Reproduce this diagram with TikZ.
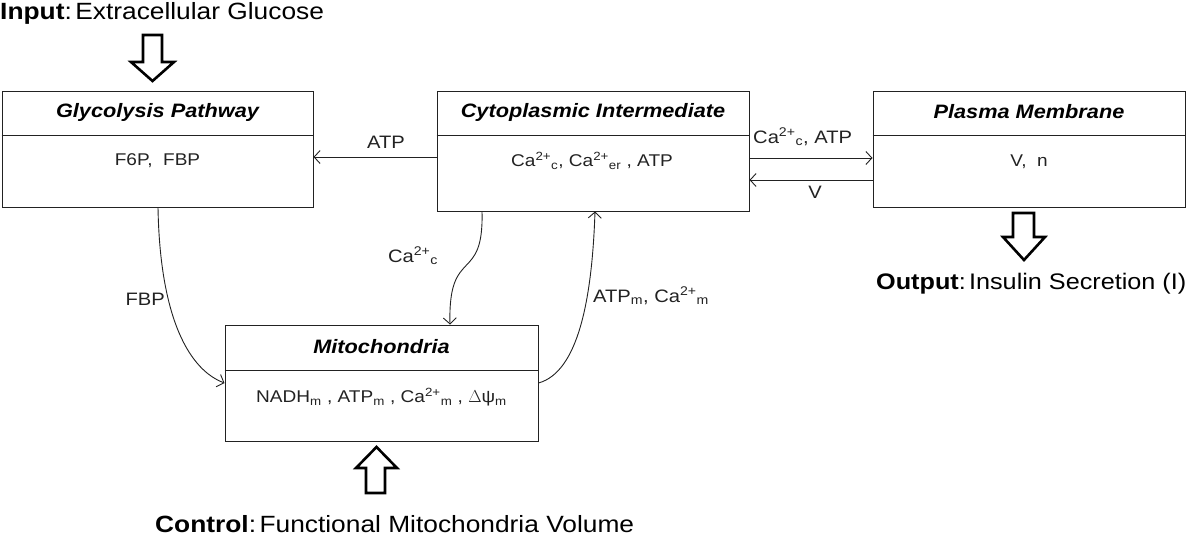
\documentclass[tikz,border=0pt]{standalone}
\usepackage{fontspec}
\setmainfont[FakeStretch=1.12]{Liberation Sans}
\usetikzlibrary{arrows.meta}
\definecolor{ink}{HTML}{222222}
\tikzset{
  blk/.style={draw=ink, line width=1pt, rectangle, inner sep=0pt},
  ttl/.style={font=\fontsize{19.4}{22}\selectfont\bfseries\itshape, inner sep=1pt},
  body/.style={font=\fontsize{17}{20}\selectfont, inner sep=1pt, text=ink},
  lbl/.style={font=\fontsize{18}{21}\selectfont, inner sep=1pt, text=ink},
  big/.style={font=\fontsize{23.5}{26}\selectfont, inner sep=0pt},
  conn/.style={draw=ink, line width=0.9pt, -{Straight Barb[length=6pt,width=13pt,line width=0.9pt]}},
  hollow/.style={draw=black, line width=2.6pt, fill=white, line join=miter}
}
\newcommand{\caa}[1]{Ca\textsuperscript{2+}\textsubscript{#1}}
\begin{document}
\begin{tikzpicture}[x=1pt,y=-1pt]
\useasboundingbox (0,0) rectangle (1200,536);
% boxes
\node[blk, minimum width=311pt, minimum height=116pt] (gly) at (157.5,149) {};
\node[blk, minimum width=312pt, minimum height=120pt] (cyt) at (593,151) {};
\node[blk, minimum width=312pt, minimum height=116pt] (pla) at (1029,149) {};
\node[blk, minimum width=313pt, minimum height=116pt] (mit) at (381.5,383) {};
% dividers
\draw[ink, line width=1pt] (gly.west |- 0,135) -- (gly.east |- 0,135);
\draw[ink, line width=1pt] (cyt.west |- 0,135) -- (cyt.east |- 0,135);
\draw[ink, line width=1pt] (pla.west |- 0,135) -- (pla.east |- 0,135);
\draw[ink, line width=1pt] (mit.west |- 0,370) -- (mit.east |- 0,370);
% titles
\node[ttl] (glyt) at (157.5,112) {Glycolysis Pathway};
\node[ttl] (cytt) at (593,112) {Cytoplasmic Intermediate};
\node[ttl] (plat) at (1029,112) {Plasma Membrane};
\node[ttl] (mitt) at (381.5,347) {Mitochondria};
% contents
\node[body] (glyc) at (157.5,161) {F6P,\ \ FBP};
\node[body] (cytc) at (592,161) {\caa{c}, \caa{er} , ATP};
\node[body] (plac) at (1029,162) {V,\ \ n};
\node[body] (mitc) at (381.5,397) {NADH\textsubscript{m} ,\ ATP\textsubscript{m} ,\ \caa{m} ,\ $\Delta$ψ\textsubscript{m}};
% connectors
\draw[conn] (cyt.west |- 0,157) -- (gly.east |- 0,157);
\node[lbl] (latp) at (386,142) {ATP};
\draw[conn] (cyt.east |- 0,158) -- (pla.west |- 0,158);
\node[lbl, anchor=west] (lca) at (752,137) {\caa{c}, ATP};
\draw[conn] (pla.west |- 0,180) -- (cyt.east |- 0,180);
\node[lbl] (lv) at (815,192) {V};
\draw[conn] (gly.south -| 158,0) .. controls (160,320) and (190,370) .. (mit.west |- 0,383);
\node[lbl, anchor=east] (lfbp) at (166,299) {FBP};
\draw[conn] (cyt.south -| 482,0) .. controls (484,285) and (448,245) .. (mit.north -| 450,0);
\node[lbl] (lcac) at (413,256) {\caa{c}};
\draw[conn] (mit.east |- 0,383) .. controls (578,372) and (592,300) .. (cyt.south -| 595,0);
\node[lbl, anchor=west] (latpm) at (592,296) {ATP\textsubscript{m}, \caa{m}};
% hollow arrows
\draw[hollow] (143,35) -- (162,35) -- (162,62) -- (174,62) -- (152.5,81) -- (131,62) -- (143,62) -- cycle;
\draw[hollow] (1013,213) -- (1034,213) -- (1034,237) -- (1045,237) -- (1024,260) -- (1003,237) -- (1013,237) -- cycle;
\draw[hollow] (366,493) -- (385,493) -- (385,468) -- (397,468) -- (376.5,447) -- (356,468) -- (366,468) -- cycle;
% big texts
\node[big, anchor=base west] (tin) at (0,19) {\textbf{Input}:\hspace{0.15em}Extracellular Glucose};
\node[big, anchor=base west, font=\fontsize{22.5}{25}\selectfont] (tout) at (876,289) {\textbf{Output}:\hspace{0.15em}Insulin Secretion (I)};
\node[big, anchor=base west] (tctl) at (155,532) {\textbf{Control}:\hspace{0.15em}Functional Mitochondria Volume};
\end{tikzpicture}
\end{document}
